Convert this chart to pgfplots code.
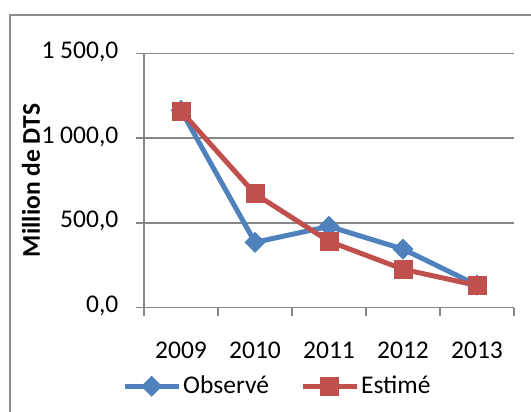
\documentclass[border=0pt]{standalone}
\usepackage{pgfplots}
\pgfplotsset{compat=1.18}
\usepackage{fontspec}
\setmainfont{Carlito}
\definecolor{xlblue}{HTML}{4F81BD}
\definecolor{xlred}{HTML}{C0504D}
\definecolor{xlgrid}{HTML}{868686}
\definecolor{xlborder}{HTML}{8C8C8C}
\begin{document}
\fontsize{25.5bp}{30bp}\selectfont
\begin{tikzpicture}
\path[use as bounding box] (0,0) rectangle (531bp,412bp);
\draw[xlborder, line width=2bp] (10bp,-10bp) -- (10bp,397bp) -- (545bp,397bp);
\begin{axis}[
  at={(144bp,104.5bp)}, anchor=south west,
  scale only axis, width=370bp, height=254bp,
  xmin=-0.5, xmax=4.5, ymin=0, ymax=1500,
  xtick={-0.5,0.5,...,4.5},
  xticklabels={2009,2010,2011,2012,2013},
  x tick label as interval,
  ytick={0,500,1000,1500},
  yticklabels={{0,0},{500,0},{1 000,0},{1 500,0}},
  axis lines*=left,
  axis line style={xlgrid, line width=1.6bp},
  tick style={xlgrid, line width=1.6bp},
  tick align=outside,
  major tick length=8bp,
  ymajorgrids,
  grid style={xlgrid, line width=1.5bp},
  xticklabel style={inner sep=0pt, anchor=north, yshift=-26bp},
  yticklabel style={inner sep=0pt, anchor=east, xshift=-17.5bp, yshift=1.5bp},
  ylabel={Million de DTS},
  ylabel style={at={(axis description cs:-0.3054,0.5)}, anchor=center, font=\bfseries},
  legend columns=2,
  legend style={at={(axis description cs:-0.0595,-0.31)}, anchor=west,
    draw=none, fill=none, inner sep=0pt,
    nodes={inner sep=2bp},
    /tikz/every even column/.append style={column sep=29bp}},
  legend image code/.code={\draw[mark repeat=2,mark phase=2] plot coordinates {(0bp,0bp) (27bp,0bp) (54bp,0bp)};},
  clip=false,
]
\addplot[xlblue, line width=5bp, mark=square*, mark size=7bp,
  mark options={rotate=45, fill=xlblue, draw=xlblue, line width=0.8bp}]
  coordinates {(0,1165) (1,385) (2,479) (3,345) (4,132)};
\addlegendentry{Observé}
\addplot[xlred, line width=5bp, mark=square*, mark size=9bp,
  mark options={fill=xlred, draw=xlred, line width=0.8bp}]
  coordinates {(0,1160) (1,671) (2,391) (3,226) (4,130)};
\addlegendentry{Estimé}
\end{axis}
\end{tikzpicture}
\end{document}
